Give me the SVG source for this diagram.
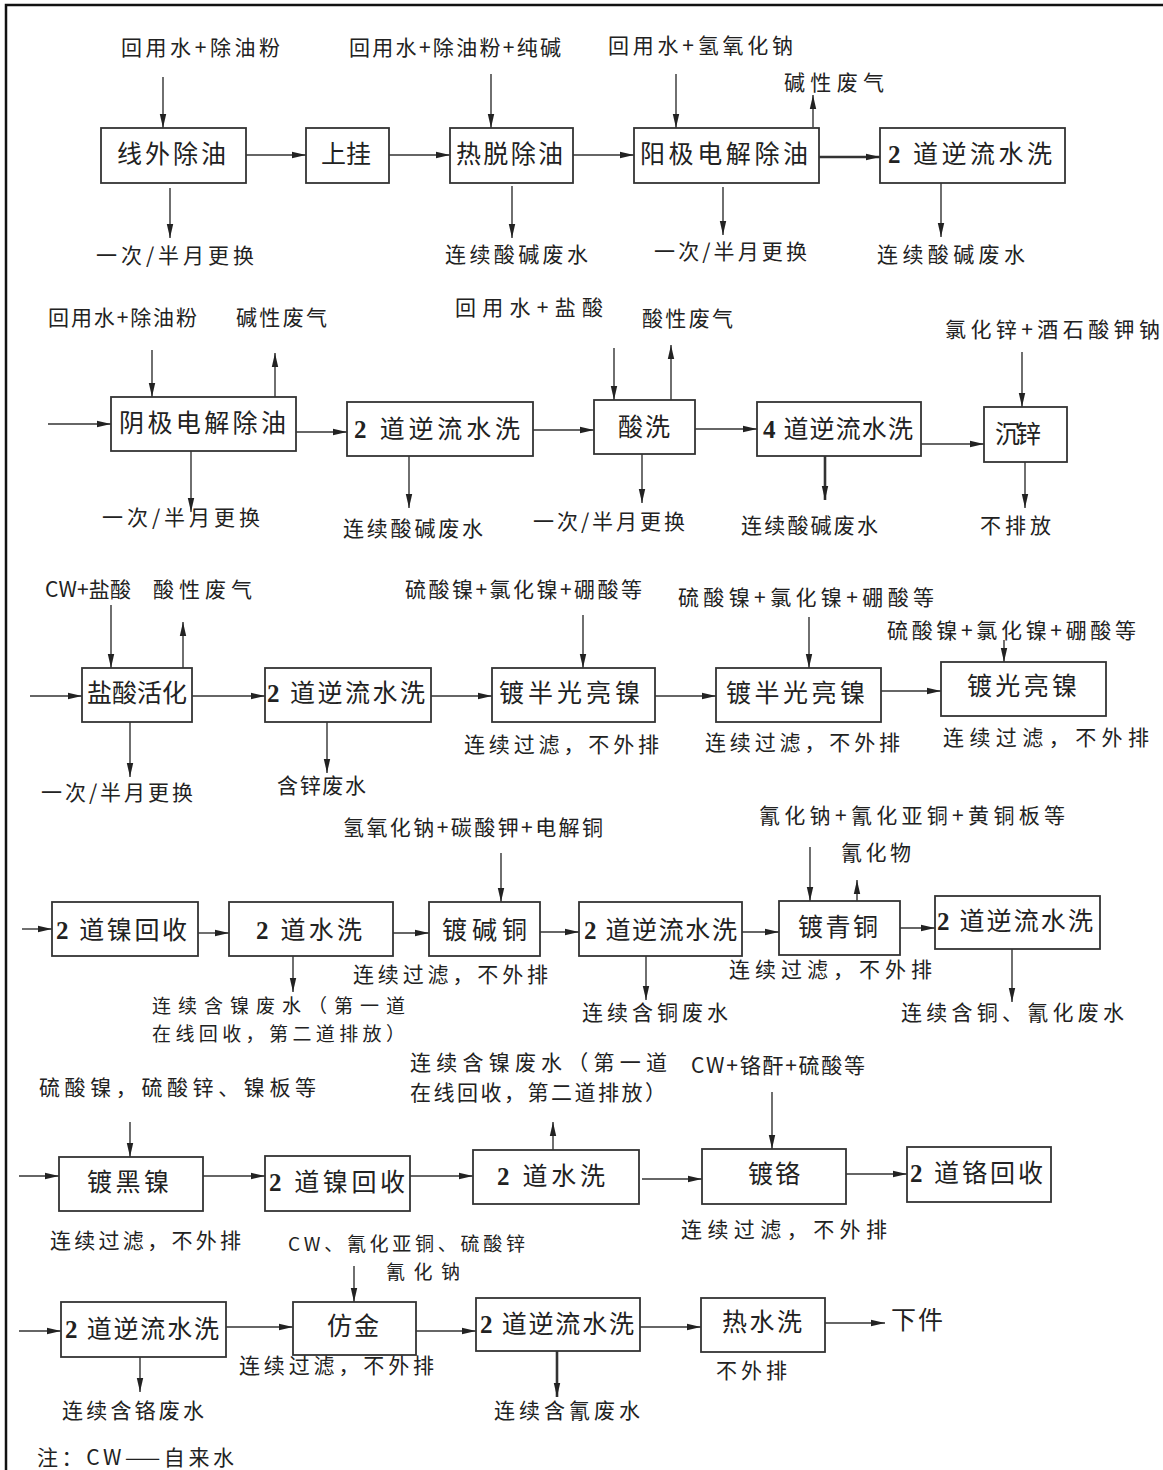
<svg xmlns="http://www.w3.org/2000/svg" width="1163" height="1470" viewBox="0 0 1163 1470">
  <style>
    .bg { fill: #ffffff; }
    .frame { fill: none; stroke: #111; stroke-width: 2.5; }
    .box { fill: #ffffff; stroke: #333; stroke-width: 1.8; }
    .t { font-family: "Noto Sans CJK SC", "Noto Sans CJK TC", sans-serif; font-size: 21px; fill: #222; }
    .bt { font-size: 25px; }
    .sm { font-size: 19px; }
    .num { font-family: "Liberation Serif", serif; font-weight: bold; }
    .c line { stroke: #333; stroke-width: 1.4; marker-end: url(#ah); }
    .c line.thick { stroke-width: 2.6; }
  </style>
  <defs>
    <marker id="ah" viewBox="0 0 14 8" refX="14" refY="4" markerWidth="14" markerHeight="8" markerUnits="userSpaceOnUse" orient="auto">
      <path d="M0,0.8 L14,4 L0,7.2 Z" fill="#222"/>
    </marker>
  </defs>

  <rect class="bg" x="0" y="0" width="1163" height="1470"/>
  <!-- page frame: top and left edges -->
  <path class="frame" d="M6,1472 L6,5 L1165,5"/>

  <!-- connectors -->
  <g id="connectors" class="c">
    <!-- row 1 -->
    <line x1="163" y1="77" x2="163" y2="128"/>
    <line x1="170" y1="188" x2="170" y2="238"/>
    <line x1="246" y1="155" x2="306" y2="155"/>
    <line x1="389" y1="155" x2="450" y2="155"/>
    <line x1="491" y1="74" x2="491" y2="128"/>
    <line x1="512" y1="186" x2="512" y2="238"/>
    <line x1="573" y1="155" x2="634" y2="155"/>
    <line x1="676" y1="74" x2="676" y2="128"/>
    <line x1="813" y1="127" x2="813" y2="95"/>
    <line class="thick" x1="819" y1="157" x2="880" y2="157"/>
    <line x1="723" y1="187" x2="723" y2="235"/>
    <line x1="941" y1="183" x2="941" y2="237"/>
    <!-- row 2 -->
    <line x1="48" y1="424" x2="111" y2="424"/>
    <line x1="152" y1="350" x2="152" y2="397"/>
    <line x1="275" y1="397" x2="275" y2="353"/>
    <line x1="191" y1="451" x2="191" y2="512"/>
    <line x1="287" y1="432" x2="347" y2="432"/>
    <line x1="409" y1="456" x2="409" y2="508"/>
    <line x1="533" y1="430" x2="594" y2="430"/>
    <line x1="614" y1="348" x2="614" y2="400"/>
    <line x1="671" y1="400" x2="671" y2="345"/>
    <line x1="642" y1="454" x2="642" y2="503"/>
    <line x1="695" y1="429" x2="757" y2="429"/>
    <line class="thick" x1="825" y1="456" x2="825" y2="500"/>
    <line x1="921" y1="444" x2="984" y2="444"/>
    <line x1="1022" y1="352" x2="1022" y2="407"/>
    <line x1="1025" y1="462" x2="1025" y2="508"/>
    <!-- row 3 -->
    <line x1="30" y1="696" x2="82" y2="696"/>
    <line x1="111" y1="605" x2="111" y2="668"/>
    <line x1="183" y1="668" x2="183" y2="622"/>
    <line x1="130" y1="722" x2="130" y2="777"/>
    <line x1="192" y1="696" x2="265" y2="696"/>
    <line x1="327" y1="722" x2="327" y2="773"/>
    <line x1="431" y1="696" x2="492" y2="696"/>
    <line x1="583" y1="615" x2="583" y2="668"/>
    <line x1="655" y1="696" x2="716" y2="696"/>
    <line x1="809" y1="617" x2="809" y2="668"/>
    <line x1="881" y1="691" x2="941" y2="691"/>
    <line x1="1004" y1="640" x2="1004" y2="662"/>
    <!-- row 4 -->
    <line x1="22" y1="929" x2="52" y2="929"/>
    <line x1="198" y1="933" x2="229" y2="933"/>
    <line x1="293" y1="956" x2="293" y2="992"/>
    <line x1="393" y1="933" x2="429" y2="933"/>
    <line x1="501" y1="853" x2="501" y2="902"/>
    <line x1="540" y1="932" x2="579" y2="932"/>
    <line x1="646" y1="956" x2="646" y2="1000"/>
    <line x1="742" y1="932" x2="779" y2="932"/>
    <line x1="810" y1="847" x2="810" y2="901"/>
    <line x1="857" y1="901" x2="857" y2="880"/>
    <line x1="900" y1="928" x2="935" y2="928"/>
    <line x1="1012" y1="949" x2="1012" y2="1002"/>
    <!-- row 5 -->
    <line x1="19" y1="1176" x2="59" y2="1176"/>
    <line x1="130" y1="1122" x2="130" y2="1157"/>
    <line x1="203" y1="1176" x2="265" y2="1176"/>
    <line x1="410" y1="1176" x2="473" y2="1176"/>
    <line x1="553" y1="1150" x2="553" y2="1122"/>
    <line x1="642" y1="1179" x2="702" y2="1179"/>
    <line x1="772" y1="1092" x2="772" y2="1149"/>
    <line x1="846" y1="1174" x2="907" y2="1174"/>
    <!-- row 6 -->
    <line x1="19" y1="1331" x2="61" y2="1331"/>
    <line x1="140" y1="1357" x2="140" y2="1392"/>
    <line x1="226" y1="1327" x2="293" y2="1327"/>
    <line x1="354" y1="1266" x2="354" y2="1302"/>
    <line x1="416" y1="1331" x2="476" y2="1331"/>
    <line class="thick" x1="557" y1="1351" x2="557" y2="1397"/>
    <line x1="640" y1="1327" x2="701" y2="1327"/>
    <line x1="825" y1="1323" x2="885" y2="1323"/>
  </g>

  <!-- row 1 -->
  <g id="n-xianwai-chuyou">
    <rect class="box" x="101" y="128" width="145" height="55"/>
    <text class="t bt" x="117" y="163" textLength="109" lengthAdjust="spacing">线外除油</text>
    <text class="t" x="121" y="55" textLength="159" lengthAdjust="spacing">回用水+除油粉</text>
    <text class="t" x="96" y="263" textLength="158" lengthAdjust="spacing">一次/半月更换</text>
  </g>
  <g id="n-shanggua">
    <rect class="box" x="306" y="128" width="83" height="55"/>
    <text class="t bt" x="321" y="163" textLength="50" lengthAdjust="spacing">上挂</text>
  </g>
  <g id="n-retuo-chuyou">
    <rect class="box" x="450" y="128" width="123" height="55"/>
    <text class="t bt" x="456" y="163" textLength="107" lengthAdjust="spacing">热脱除油</text>
    <text class="t" x="349" y="55" textLength="212" lengthAdjust="spacing">回用水+除油粉+纯碱</text>
    <text class="t" x="445" y="262" textLength="143" lengthAdjust="spacing">连续酸碱废水</text>
  </g>
  <g id="n-yangji-dianjie">
    <rect class="box" x="634" y="128" width="185" height="55"/>
    <text class="t bt" x="640" y="163" textLength="168" lengthAdjust="spacing">阳极电解除油</text>
    <text class="t" x="608" y="53" textLength="185" lengthAdjust="spacing">回用水+氢氧化钠</text>
    <text class="t" x="784" y="90" textLength="100" lengthAdjust="spacing">碱性废气</text>
    <text class="t" x="654" y="259" textLength="153" lengthAdjust="spacing">一次/半月更换</text>
  </g>
  <g id="n-nixi-1">
    <rect class="box" x="880" y="128" width="185" height="55"/>
    <text class="t bt" x="888" y="163" textLength="164" lengthAdjust="spacing"><tspan class="num">2</tspan> 道逆流水洗</text>
    <text class="t" x="877" y="262" textLength="148" lengthAdjust="spacing">连续酸碱废水</text>
  </g>

  <!-- row 2 -->
  <g id="n-yinji-dianjie">
    <rect class="box" x="111" y="397" width="185" height="54"/>
    <text class="t bt" x="119" y="432" textLength="167" lengthAdjust="spacing">阴极电解除油</text>
    <text class="t" x="48" y="325" textLength="149" lengthAdjust="spacing">回用水+除油粉</text>
    <text class="t" x="236" y="325" textLength="91" lengthAdjust="spacing">碱性废气</text>
    <text class="t" x="102" y="525" textLength="158" lengthAdjust="spacing">一次/半月更换</text>
  </g>
  <g id="n-nixi-2">
    <rect class="box" x="347" y="402" width="186" height="54"/>
    <text class="t bt" x="354" y="438" textLength="166" lengthAdjust="spacing"><tspan class="num">2</tspan> 道逆流水洗</text>
    <text class="t" x="343" y="536" textLength="140" lengthAdjust="spacing">连续酸碱废水</text>
  </g>
  <g id="n-suanxi">
    <rect class="box" x="594" y="400" width="101" height="54"/>
    <text class="t bt" x="618" y="436" textLength="52" lengthAdjust="spacing">酸洗</text>
    <text class="t" x="455" y="315" textLength="148" lengthAdjust="spacing">回用水+盐酸</text>
    <text class="t" x="642" y="326" textLength="91" lengthAdjust="spacing">酸性废气</text>
    <text class="t" x="533" y="529" textLength="152" lengthAdjust="spacing">一次/半月更换</text>
  </g>
  <g id="n-nixi-4">
    <rect class="box" x="757" y="402" width="164" height="54"/>
    <text class="t bt" x="763" y="438" textLength="150" lengthAdjust="spacing"><tspan class="num">4</tspan> 道逆流水洗</text>
    <text class="t" x="741" y="533" textLength="137" lengthAdjust="spacing">连续酸碱废水</text>
  </g>
  <g id="n-chenxin">
    <rect class="box" x="984" y="407" width="83" height="55"/>
    <text class="t bt" x="995" y="443" textLength="46" lengthAdjust="spacing">沉锌</text>
    <text class="t" x="945" y="337" textLength="215" lengthAdjust="spacing">氯化锌+酒石酸钾钠</text>
    <text class="t" x="980" y="533" textLength="71" lengthAdjust="spacing">不排放</text>
  </g>

  <!-- row 3 -->
  <g id="n-yansuan-huohua">
    <rect class="box" x="82" y="668" width="110" height="54"/>
    <text class="t bt" x="87" y="702" textLength="100" lengthAdjust="spacing">盐酸活化</text>
    <text class="t" x="45" y="597" textLength="86" lengthAdjust="spacing">CW+盐酸</text>
    <text class="t" x="153" y="597" textLength="99" lengthAdjust="spacing">酸性废气</text>
    <text class="t" x="41" y="800" textLength="152" lengthAdjust="spacing">一次/半月更换</text>
  </g>
  <g id="n-nixi-3">
    <rect class="box" x="265" y="668" width="166" height="54"/>
    <text class="t bt" x="267" y="702" textLength="158" lengthAdjust="spacing"><tspan class="num">2</tspan> 道逆流水洗</text>
    <text class="t" x="277" y="793" textLength="89" lengthAdjust="spacing">含锌废水</text>
  </g>
  <g id="n-banguang-1">
    <rect class="box" x="492" y="668" width="163" height="54"/>
    <text class="t bt" x="499" y="702" textLength="141" lengthAdjust="spacing">镀半光亮镍</text>
    <text class="t" x="405" y="597" textLength="237" lengthAdjust="spacing">硫酸镍+氯化镍+硼酸等</text>
    <text class="t" x="464" y="752" textLength="195" lengthAdjust="spacing">连续过滤，不外排</text>
  </g>
  <g id="n-banguang-2">
    <rect class="box" x="716" y="668" width="165" height="54"/>
    <text class="t bt" x="726" y="702" textLength="139" lengthAdjust="spacing">镀半光亮镍</text>
    <text class="t" x="678" y="605" textLength="256" lengthAdjust="spacing">硫酸镍+氯化镍+硼酸等</text>
    <text class="t" x="705" y="750" textLength="195" lengthAdjust="spacing">连续过滤，不外排</text>
  </g>
  <g id="n-guangliang">
    <rect class="box" x="941" y="662" width="165" height="54"/>
    <text class="t bt" x="967" y="695" textLength="110" lengthAdjust="spacing">镀光亮镍</text>
    <text class="t" x="887" y="638" textLength="249" lengthAdjust="spacing">硫酸镍+氯化镍+硼酸等</text>
    <text class="t" x="943" y="745" textLength="206" lengthAdjust="spacing">连续过滤，不外排</text>
  </g>

  <!-- row 4 -->
  <g id="n-nie-huishou-1">
    <rect class="box" x="52" y="902" width="146" height="54"/>
    <text class="t bt" x="56" y="939" textLength="131" lengthAdjust="spacing"><tspan class="num">2</tspan> 道镍回收</text>
  </g>
  <g id="n-shuixi-1">
    <rect class="box" x="229" y="902" width="164" height="54"/>
    <text class="t bt" x="256" y="939" textLength="106" lengthAdjust="spacing"><tspan class="num">2</tspan> 道水洗</text>
    <text class="t sm" x="152" y="1013" textLength="253" lengthAdjust="spacing">连续含镍废水（第一道</text>
    <text class="t sm" x="152" y="1041" textLength="253" lengthAdjust="spacing">在线回收，第二道排放）</text>
  </g>
  <g id="n-jiantong">
    <rect class="box" x="429" y="902" width="111" height="54"/>
    <text class="t bt" x="442" y="939" textLength="85" lengthAdjust="spacing">镀碱铜</text>
    <text class="t" x="343" y="835" textLength="260" lengthAdjust="spacing">氢氧化钠+碳酸钾+电解铜</text>
    <text class="t" x="353" y="982" textLength="195" lengthAdjust="spacing">连续过滤，不外排</text>
  </g>
  <g id="n-nixi-5">
    <rect class="box" x="579" y="902" width="163" height="54"/>
    <text class="t bt" x="584" y="939" textLength="153" lengthAdjust="spacing"><tspan class="num">2</tspan> 道逆流水洗</text>
    <text class="t" x="582" y="1020" textLength="146" lengthAdjust="spacing">连续含铜废水</text>
  </g>
  <g id="n-qingtong">
    <rect class="box" x="779" y="901" width="121" height="54"/>
    <text class="t bt" x="798" y="936" textLength="80" lengthAdjust="spacing">镀青铜</text>
    <text class="t" x="759" y="823" textLength="306" lengthAdjust="spacing">氰化钠+氰化亚铜+黄铜板等</text>
    <text class="t" x="841" y="860" textLength="70" lengthAdjust="spacing">氰化物</text>
    <text class="t" x="729" y="977" textLength="203" lengthAdjust="spacing">连续过滤，不外排</text>
  </g>
  <g id="n-nixi-6">
    <rect class="box" x="935" y="896" width="165" height="53"/>
    <text class="t bt" x="937" y="930" textLength="156" lengthAdjust="spacing"><tspan class="num">2</tspan> 道逆流水洗</text>
    <text class="t" x="901" y="1020" textLength="223" lengthAdjust="spacing">连续含铜、氰化废水</text>
  </g>

  <!-- row 5 -->
  <g id="n-heinie">
    <rect class="box" x="59" y="1157" width="144" height="54"/>
    <text class="t bt" x="87" y="1191" textLength="82" lengthAdjust="spacing">镀黑镍</text>
    <text class="t" x="39" y="1095" textLength="277" lengthAdjust="spacing">硫酸镍，硫酸锌、镍板等</text>
    <text class="t" x="50" y="1248" textLength="191" lengthAdjust="spacing">连续过滤，不外排</text>
  </g>
  <g id="n-nie-huishou-2">
    <rect class="box" x="265" y="1156" width="145" height="55"/>
    <text class="t bt" x="269" y="1191" textLength="136" lengthAdjust="spacing"><tspan class="num">2</tspan> 道镍回收</text>
  </g>
  <g id="n-shuixi-2">
    <rect class="box" x="473" y="1150" width="166" height="54"/>
    <text class="t bt" x="497" y="1185" textLength="108" lengthAdjust="spacing"><tspan class="num">2</tspan> 道水洗</text>
    <text class="t" x="410" y="1070" textLength="257" lengthAdjust="spacing">连续含镍废水（第一道</text>
    <text class="t" x="410" y="1100" textLength="256" lengthAdjust="spacing">在线回收，第二道排放）</text>
  </g>
  <g id="n-duge">
    <rect class="box" x="702" y="1149" width="144" height="55"/>
    <text class="t bt" x="748" y="1183" textLength="52" lengthAdjust="spacing">镀铬</text>
    <text class="t" x="691" y="1073" textLength="174" lengthAdjust="spacing">CW+铬酐+硫酸等</text>
    <text class="t" x="681" y="1237" textLength="206" lengthAdjust="spacing">连续过滤，不外排</text>
  </g>
  <g id="n-ge-huishou">
    <rect class="box" x="907" y="1147" width="144" height="55"/>
    <text class="t bt" x="910" y="1182" textLength="133" lengthAdjust="spacing"><tspan class="num">2</tspan> 道铬回收</text>
  </g>

  <!-- row 6 -->
  <g id="n-nixi-7">
    <rect class="box" x="61" y="1302" width="165" height="55"/>
    <text class="t bt" x="65" y="1338" textLength="154" lengthAdjust="spacing"><tspan class="num">2</tspan> 道逆流水洗</text>
    <text class="t" x="62" y="1418" textLength="142" lengthAdjust="spacing">连续含铬废水</text>
  </g>
  <g id="n-fangjin">
    <rect class="box" x="293" y="1302" width="123" height="53"/>
    <text class="t bt" x="327" y="1335" textLength="52" lengthAdjust="spacing">仿金</text>
    <text class="t sm" x="288" y="1251" textLength="237" lengthAdjust="spacing">CW、氰化亚铜、硫酸锌</text>
    <text class="t sm" x="386" y="1279" textLength="74" lengthAdjust="spacing">氰化钠</text>
    <text class="t" x="239" y="1373" textLength="195" lengthAdjust="spacing">连续过滤，不外排</text>
  </g>
  <g id="n-nixi-8">
    <rect class="box" x="476" y="1298" width="164" height="53"/>
    <text class="t bt" x="480" y="1333" textLength="154" lengthAdjust="spacing"><tspan class="num">2</tspan> 道逆流水洗</text>
    <text class="t" x="494" y="1418" textLength="146" lengthAdjust="spacing">连续含氰废水</text>
  </g>
  <g id="n-reshuixi">
    <rect class="box" x="701" y="1298" width="124" height="54"/>
    <text class="t bt" x="722" y="1331" textLength="80" lengthAdjust="spacing">热水洗</text>
    <text class="t" x="716" y="1378" textLength="71" lengthAdjust="spacing">不外排</text>
  </g>
  <g id="n-xiajian">
    <text class="t bt" x="891" y="1329" textLength="52" lengthAdjust="spacing">下件</text>
  </g>

  <!-- footnote -->
  <text class="t" x="37" y="1465" textLength="197" lengthAdjust="spacing">注：CW——自来水</text>
</svg>
